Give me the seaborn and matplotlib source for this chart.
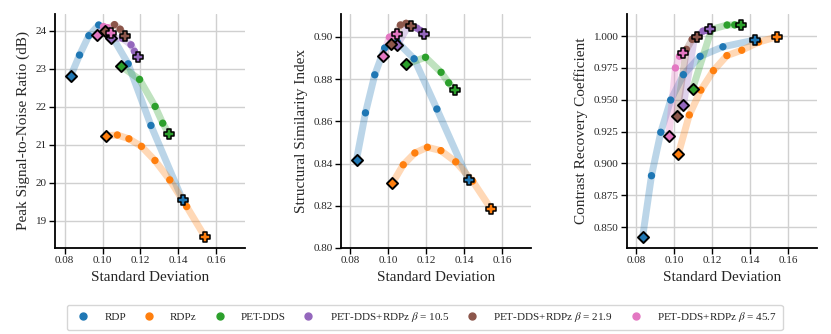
import numpy as np
import pandas as pd
import matplotlib
matplotlib.use("Agg")
import matplotlib.pyplot as plt
from matplotlib.lines import Line2D
import seaborn as sns

# ---------------- data ----------------
methods = ["RDP", "RDPz", "PET-DDS",
           r"PET-DDS+RDPz $\beta$ = 10.5",
           r"PET-DDS+RDPz $\beta$ = 21.9",
           r"PET-DDS+RDPz $\beta$ = 45.7"]

sd_rdp = [0.0832, 0.0879, 0.0928, 0.0980, 0.1047, 0.1135, 0.1255, 0.1422]
psnr_rdp = [22.80, 23.36, 23.87, 24.15, 23.88, 23.13, 21.51, 19.55]
ssim_rdp = [0.8419, 0.8640, 0.8820, 0.8947, 0.8975, 0.8896, 0.8658, 0.8321]
crc_rdp = [0.8420, 0.8904, 0.9245, 0.9498, 0.9697, 0.9841, 0.9916, 0.9969]

sd_rdpz = [0.1020, 0.1078, 0.1139, 0.1205, 0.1276, 0.1354, 0.1443, 0.1541]
psnr_rdpz = [21.24, 21.26, 21.16, 20.96, 20.59, 20.08, 19.38, 18.57]
ssim_rdpz = [0.8306, 0.8394, 0.8450, 0.8477, 0.8461, 0.8408, 0.8317, 0.8184]
crc_rdpz = [0.9073, 0.9381, 0.9576, 0.9729, 0.9847, 0.9889, 0.9953, 0.9995]

sd_dds = [0.1095, 0.1195, 0.1277, 0.1317, 0.1350]
psnr_dds = [23.08, 22.72, 22.01, 21.57, 21.29]
ssim_dds = [0.8871, 0.8903, 0.8832, 0.8782, 0.8746]
crc_dds = [0.9584, 1.0053, 1.0087, 1.0088, 1.0090]

sd_b105 = [0.1047, 0.1105, 0.1150, 0.1168, 0.1185]
psnr_b105 = [23.80, 23.80, 23.63, 23.46, 23.31]
ssim_b105 = [0.8962, 0.9052, 0.9041, 0.9030, 0.9013]
crc_b105 = [0.9458, 0.9985, 1.0039, 1.0045, 1.0053]

sd_b219 = [0.1011, 0.1063, 0.1093, 0.1121]
psnr_b219 = [23.98, 24.16, 24.04, 23.85]
ssim_b219 = [0.8965, 0.9056, 0.9064, 0.9050]
crc_b219 = [0.9376, 0.9896, 0.9974, 0.9995]

sd_b457 = [0.0970, 0.1005, 0.1026, 0.1047]
psnr_b457 = [23.89, 24.11, 24.08, 23.95]
ssim_b457 = [0.8907, 0.8998, 0.9008, 0.9013]
crc_b457 = [0.9219, 0.9750, 0.9842, 0.9868]

x_ticks = [0.08, 0.10, 0.12, 0.14, 0.16]
psnr_ticks = [19, 20, 21, 22, 23, 24]
ssim_ticks = [0.80, 0.82, 0.84, 0.86, 0.88, 0.90]
crc_ticks = [0.850, 0.875, 0.900, 0.925, 0.950, 0.975, 1.000]

sds = [sd_rdp, sd_rdpz, sd_dds, sd_b105, sd_b219, sd_b457]
psnrs = [psnr_rdp, psnr_rdpz, psnr_dds, psnr_b105, psnr_b219, psnr_b457]
ssims = [ssim_rdp, ssim_rdpz, ssim_dds, ssim_b105, ssim_b219, ssim_b457]
crcs = [crc_rdp, crc_rdpz, crc_dds, crc_b105, crc_b219, crc_b457]

rows = []
for m, sd, p, s, c in zip(methods, sds, psnrs, ssims, crcs):
    n = len(sd)
    for i in range(n):
        pos = "first" if i == 0 else ("last" if i == n - 1 else "mid")
        rows.append(dict(method=m, sd=sd[i], psnr=p[i], ssim=s[i], crc=c[i], pos=pos, order=i))
df = pd.DataFrame(rows)

# ---------------- style ----------------
sns.set_theme(style="ticks")
plt.rcParams["font.family"] = ["Liberation Serif", "DejaVu Serif"]
plt.rcParams["mathtext.fontset"] = "stix"
plt.rcParams["axes.edgecolor"] = "black"

tab = sns.color_palette("tab10", 10)
palette = dict(zip(methods, [tab[0], tab[1], tab[2], tab[4], tab[5], tab[6]]))

fig = plt.figure(figsize=(8.31, 3.34), dpi=100)
bottom, height, width = 0.2575, 0.7006, 0.2286
lefts = [0.0662, 0.4103, 0.7545]
axes = [fig.add_axes([l, bottom, width, height]) for l in lefts]

metrics = [("psnr", "Peak Signal-to-Noise Ratio (dB)", psnr_ticks, "{:.0f}"),
           ("ssim", "Structural Similarity Index", ssim_ticks, "{:.2f}"),
           ("crc", "Contrast Recovery Coefficient", crc_ticks, "{:.3f}")]

for ax, (col, ylabel, yticks, fmt) in zip(axes, metrics):
    ax.grid(True, color="#d0d0d0", linewidth=1.0, zorder=0)
    ax.set_axisbelow(True)
    for m in methods:
        d = df[df.method == m].sort_values("order")
        col_c = palette[m]
        sns.lineplot(data=d, x="sd", y=col, sort=False, color=col_c, lw=5,
                     alpha=0.3, ax=ax, legend=False, zorder=2)
        mid = d[d.pos == "mid"]
        sns.scatterplot(data=mid, x="sd", y=col, color=col_c, s=28,
                        edgecolor="none", ax=ax, legend=False, zorder=3)
        first = d[d.pos == "first"]
        sns.scatterplot(data=first, x="sd", y=col, color=col_c, marker="D", s=32,
                        edgecolor="black", linewidth=1.4, ax=ax, legend=False, zorder=4)
        last = d[d.pos == "last"]
        sns.scatterplot(data=last, x="sd", y=col, color=col_c, marker="P", s=55,
                        edgecolor="black", linewidth=1.1, ax=ax, legend=False, zorder=4)
    ax.set_xlim(0.075, 0.175)
    ax.set_xticks(x_ticks)
    ax.set_xticklabels([f"{v:.2f}" for v in x_ticks], fontsize=8)
    ax.set_yticks(yticks)
    ax.set_yticklabels([fmt.format(v) for v in yticks], fontsize=8)
    ax.set_xlabel("Standard Deviation", fontsize=11)
    ax.set_ylabel(ylabel, fontsize=11)
    ax.tick_params(axis="both", length=4, width=1, color="black", direction="out", pad=2)
    for sp in ["left", "bottom"]:
        ax.spines[sp].set_linewidth(1.3)
    sns.despine(ax=ax)

axes[1].set_ylim(bottom=0.80)

handles = [Line2D([], [], marker="o", linestyle="none", color=palette[m],
                  markersize=5, label=m) for m in methods]
fig.legend(handles=handles, loc="center", bbox_to_anchor=(0.511, 0.05), ncol=6,
           fontsize=8, frameon=True, edgecolor="#cccccc", handletextpad=0.9,
           columnspacing=1.05, borderpad=0.5)

fig.savefig("out.png", dpi=100)
